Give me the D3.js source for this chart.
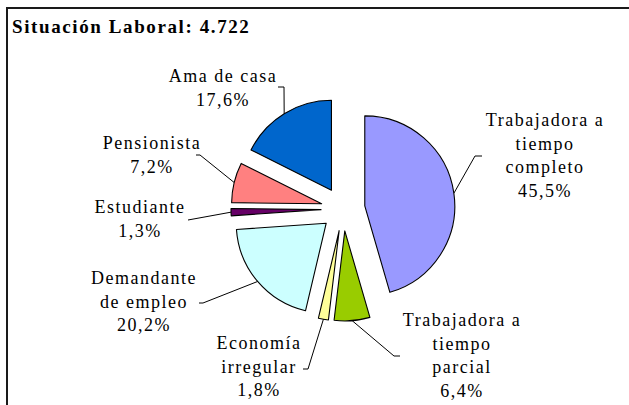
<!DOCTYPE html>
<html>
<head>
<meta charset="utf-8">
<script src="https://cdn.jsdelivr.net/npm/d3@7"></script>
<style>
  body { margin: 0; background: #fff; }
</style>
</head>
<body>
<svg id="chart" width="629" height="405"></svg>
<script>
"use strict";

// Data, clockwise from 12 o'clock
var categories = ["Trabajadora a tiempo completo", "Trabajadora a tiempo parcial", "Economía irregular",
                  "Demandante de empleo", "Estudiante", "Pensionista", "Ama de casa"];
var values = [45.5, 6.4, 1.8, 20.2, 1.3, 7.2, 17.6];
var labelLines = [
  ["Trabajadora a", "tiempo", "completo"],
  ["Trabajadora a", "tiempo", "parcial"],
  ["Economía", "irregular"],
  ["Demandante", "de empleo"],
  ["Estudiante"],
  ["Pensionista"],
  ["Ama de casa"]
];
var colors = ["#9999FF", "#99CC00", "#FFFF99", "#CCFFFF", "#660066", "#FF8080", "#0066CC"];
var title = "Situación Laboral: 4.722";

// layout of the labels: text centre, first baseline, leader elbow points
var labelLayout = [
  { x: 545, y: 126, leader: [[475, 156], [482, 156]] },
  { x: 462, y: 326, leader: [[394, 356], [400, 356]] },
  { x: 259, y: 349, leader: [[308, 369], [303, 369]] },
  { x: 144, y: 284, leader: [[203, 303], [199, 303]] },
  { x: 140, y: 213, leader: [[188, 220]] },
  { x: 152, y: 149, leader: [[200, 155], [196, 155]] },
  { x: 223, y: 82,  leader: [[284, 87], [278, 87]] }
];

var cx = 343, cy = 209, radius = 90, explode = 22, lineHeight = 23.5;
var font = "'Liberation Serif', 'Times New Roman', serif";

var svg = d3.select("#chart");

// frame (only top and left edges are visible in the picture)
svg.append("path")
    .attr("d", "M7,405 L7,8 L629,8")
    .attr("fill", "none")
    .attr("stroke", "#1a1a1a")
    .attr("stroke-width", 2);

svg.append("text")
    .attr("x", 12)
    .attr("y", 33)
    .attr("font-family", font)
    .attr("font-weight", "bold")
    .attr("font-size", 19)
    .attr("fill", "#000")
    .style("letter-spacing", "1.6px")
    .text(title);

var pie = d3.pie().sort(null).value(function(d){ return d });
var arcs = pie(values);
var arc = d3.arc().innerRadius(0).outerRadius(radius);

function offset(d) {
  var a = (d.startAngle + d.endAngle) / 2;
  return [cx + explode * Math.sin(a), cy - explode * Math.cos(a)];
}

function edgePoint(d) {
  var a = (d.startAngle + d.endAngle) / 2;
  var o = offset(d);
  return [o[0] + radius * Math.sin(a), o[1] - radius * Math.cos(a)];
}

svg.selectAll(".slice")
    .data(arcs)
    .enter()
    .append("path")
    .attr("class", "slice")
    .attr("transform", function(d){ var o = offset(d); return "translate(" + o[0] + "," + o[1] + ")" })
    .attr("d", arc)
    .attr("fill", function(d, i){ return colors[i] })
    .attr("stroke", "#000")
    .attr("stroke-width", 1.1)
    .attr("stroke-linejoin", "round");

// leader lines
svg.selectAll(".leader")
    .data(arcs)
    .enter()
    .append("polyline")
    .attr("class", "leader")
    .attr("points", function(d, i){ return [edgePoint(d)].concat(labelLayout[i].leader).map(function(p){ return p.join(",") }).join(" ") })
    .attr("fill", "none")
    .attr("stroke", "#000")
    .attr("stroke-width", 1);

// labels
var fmt = function(v){ return d3.format(".1f")(v).replace(".", ",") + "%" };

var labels = svg.selectAll(".label")
    .data(arcs)
    .enter()
    .append("text")
    .attr("class", "label")
    .attr("text-anchor", "middle")
    .attr("font-family", font)
    .attr("font-size", 18)
    .attr("fill", "#000")
    .style("letter-spacing", "1.5px");

labels.each(function(d, i){
  var lines = labelLines[i].concat([fmt(values[i])]);
  var t = d3.select(this);
  lines.forEach(function(l, j){
    t.append("tspan")
        .attr("x", labelLayout[i].x)
        .attr("y", labelLayout[i].y + j * lineHeight)
        .text(l);
  });
});
</script>
</body>
</html>
